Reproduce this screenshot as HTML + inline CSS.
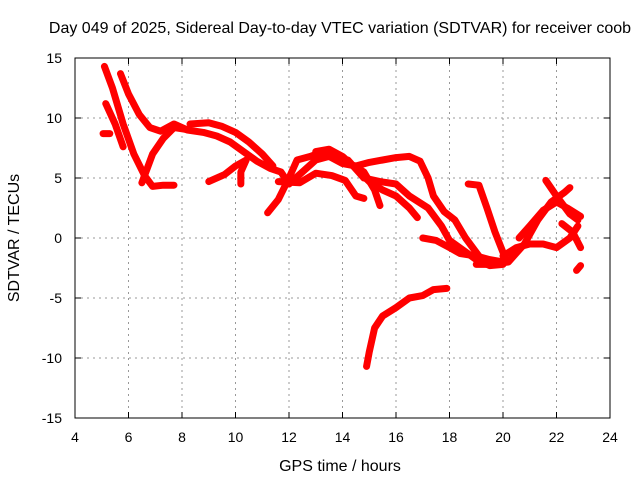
<!DOCTYPE html>
<html><head><meta charset="utf-8"><style>
body{margin:0;background:#fff;}
svg{display:block;font-family:"Liberation Sans",sans-serif;}
</style></head><body>
<svg id="chart" width="640" height="480">
<rect width="640" height="480" fill="#fff"/>
<text x="340" y="33" font-size="16" text-anchor="middle">Day 049 of 2025, Sidereal Day-to-day VTEC variation (SDTVAR) for receiver coob</text>
<g id="grid"></g>
<g id="tracks"></g>
<rect x="75" y="58" width="535" height="360" fill="none" stroke="#000" stroke-width="1"/>
<g id="ticks"></g>
<text x="340" y="471" font-size="16" text-anchor="middle">GPS time / hours</text>
<text transform="translate(19,238) rotate(-90)" font-size="16" text-anchor="middle">SDTVAR / TECUs</text>
</svg>
<script>
const xTicks=[4,6,8,10,12,14,16,18,20,22,24];
const yTicks=[-15,-10,-5,0,5,10,15];
const trackA=[[5.1,14.3],[5.4,12.5],[5.8,9.5],[6.2,7],[6.6,5.2],[6.9,4.3],[7.3,4.4],[7.7,4.4]];
const trackB=[[5.15,11.2],[5.5,9.5],[5.8,7.6]];
const trackB2=[[5.05,8.7],[5.3,8.7]];
const trackC=[[5.7,13.7],[6.0,12],[6.4,10.3],[6.8,9.2],[7.2,8.9],[7.7,9.5],[8.2,9],[8.8,8.8],[9.3,8.5],[9.8,8],[10.3,7.2],[10.8,6.4],[11.3,5.8],[11.7,5.5],[12,4.5]];
const trackD=[[6.5,4.6],[6.9,7],[7.3,8.3],[7.7,9.2],[8.3,9.0]];
const trackE=[[8.3,9.5],[9,9.6],[9.5,9.3],[10,8.8],[10.5,8],[11,7],[11.4,6]];
const trackF=[[9.0,4.7],[9.6,5.3],[10,6],[10.4,6.5],[10.2,5.5],[10.2,4.5]];
const trackG=[[11.2,2.1],[11.6,3.2],[12,5],[12.3,6.5],[12.8,6.8],[13.4,7.3],[13.8,7.0],[14.2,6.3],[14.8,5.5],[15.2,4],[15.4,2.7]];
const trackH=[[11.6,4.7],[12.4,4.6],[13,5.4],[13.6,5.2],[14.1,4.8],[14.5,3.5],[14.8,3.3]];
const trackI=[[12,4.5],[12.5,5.5],[13,6.5],[13.5,6.8],[14,6.2],[14.5,6.0],[15,6.3],[15.5,6.5],[16,6.7],[16.5,6.8],[16.9,6.4],[17.2,5.0],[17.4,3.5],[17.8,2.2],[18.2,1.5],[18.6,0],[19.2,-1.8]];
const trackJ=[[13,7.2],[13.5,7.4],[14,6.8],[14.5,5.8],[15,4.7],[15.5,4],[16,3.5],[16.5,2.5],[16.8,1.7]];
const trackK=[[14.2,6.5],[14.8,5],[15.4,4.7],[16,4.5],[16.5,3.5],[17.2,2.5],[17.7,1.0],[18.0,-0.2],[18.5,-1],[19,-1.8],[19.5,-2.3],[20,-2.2]];
const trackL=[[17,0],[17.5,-0.2],[18,-0.8],[18.4,-1.3],[19,-1.5],[19.5,-1.8],[20,-2.0]];
const trackM=[[14.9,-10.7],[15.0,-9.5],[15.2,-7.5],[15.5,-6.5],[16,-5.8],[16.5,-5.0],[17,-4.8],[17.4,-4.3],[17.9,-4.2]];
const trackN=[[18.7,4.5],[19.1,4.4],[19.4,2.5],[19.7,0.5],[20.0,-1.2],[20.1,-1.7]];
const trackO=[[19.0,-2.2],[19.5,-2.2],[20.2,-2],[20.8,-0.5],[21.3,1.5],[21.8,3],[22.3,3.8],[22.5,4.2]];
const trackP=[[21.6,4.8],[22.0,3.5],[22.5,2],[22.8,1.5]];
const trackP2=[[22.2,1.2],[22.6,0.5],[22.9,-0.8]];
const trackQ=[[20,-1.5],[20.5,-0.8],[21,-0.5],[21.5,-0.5],[22,-0.8],[22.5,0],[22.8,1]];
const trackR=[[22.75,-2.7],[22.9,-2.3]];
const trackS=[[20.6,0],[21,1],[21.5,2.3],[22,3],[22.4,2.5],[22.9,1.8]];
const tracks=[trackA,trackB,trackB2,trackC,trackD,trackE,trackF,trackG,trackH,trackI,trackJ,trackK,trackL,trackM,trackN,trackO,trackP,trackP2,trackQ,trackR,trackS];
const NS="http://www.w3.org/2000/svg";
const xS=h=>75+(h-4)*535/20;
const yS=v=>238-v*12;
const grid=document.getElementById('grid'),ticks=document.getElementById('ticks'),tg=document.getElementById('tracks');
function mk(tag,attrs,parent){const e=document.createElementNS(NS,tag);for(const k in attrs)e.setAttribute(k,attrs[k]);parent.appendChild(e);return e;}
xTicks.forEach(t=>{const x=xS(t);
 if(t>4&&t<24){const l=mk('line',{x1:x,x2:x,y1:58,y2:418,stroke:'#999','stroke-dasharray':'2,4'},grid);
 
 }
 mk('line',{x1:x,x2:x,y1:418,y2:412,stroke:'#000'},ticks);mk('line',{x1:x,x2:x,y1:58,y2:64,stroke:'#000'},ticks);
 const tx=mk('text',{x:x,y:442,'font-size':14,'text-anchor':'middle'},ticks);tx.textContent=t;
 
 });
yTicks.forEach(t=>{const y=yS(t);
 if(t>-15&&t<15){const l=mk('line',{x1:75,x2:610,y1:y,y2:y,stroke:'#999','stroke-dasharray':'2,4'},grid);
 
 }
 mk('line',{x1:75,x2:81,y1:y,y2:y,stroke:'#000'},ticks);mk('line',{x1:604,x2:610,y1:y,y2:y,stroke:'#000'},ticks);
 const tx=mk('text',{x:62,y:y+5,'font-size':14,'text-anchor':'end'},ticks);tx.textContent=t;
 
 });
tracks.forEach(tr=>{const p=mk('polyline',{points:tr.map(d=>xS(d[0])+','+yS(d[1])).join(' '),fill:'none',stroke:'#f00','stroke-width':7,'stroke-linejoin':'round','stroke-linecap':'round'},tg);
 
 });
</script>
</body></html>
